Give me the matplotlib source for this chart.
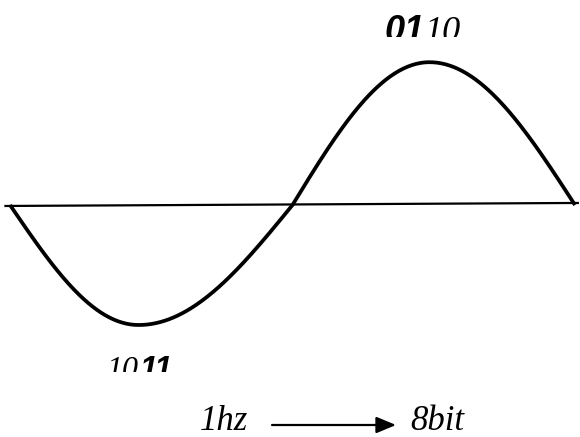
import numpy as np
import matplotlib
matplotlib.use('agg')
import matplotlib.pyplot as plt
from matplotlib.patches import Rectangle

# wave: one full period, the first half dips down, the second rises higher
half_amps = [-1.0, 1.19]          # peak of each half wave
peak_at = [0.455, 0.485]          # where each peak sits within its half
axis_y = [-0.008, 0.017]          # baseline, a bit lower on the left
axis_x = [-0.008, 1.005]          # as fraction of the period

top_label = ['01', '10']          # bold sans part, italic serif part
bottom_label = ['10', '11']       # italic serif part, bold sans part
caption = ['1hz', '8bit']

W, H = 580, 437
fig = plt.figure(figsize=(W / 100, H / 100), dpi=100)
ax = fig.add_axes([0, 0, 1, 1])
ax.set_axis_off()

# data scale: period 2*pi spans px 10..575, 1 unit = 120 px, zero at px 205
sx = 565 / (2 * np.pi)
ax.set_xlim(-10 / sx, 2 * np.pi + 5 / sx)
ax.set_ylim(-(H - 205) / 120, 205 / 120)
period = 2 * np.pi


def half_wave(start, amp, p):
    u = np.linspace(0, 1, 200)
    ph = np.where(u < p, 0.5 * np.pi * u / p,
                  0.5 * np.pi + 0.5 * np.pi * (u - p) / (1 - p))
    return start + u * np.pi, amp * np.sin(ph)


xs, ys = [], []
for i in range(2):
    hx, hy = half_wave(i * np.pi, half_amps[i], peak_at[i])
    xs.append(hx)
    ys.append(hy)
ax.plot(np.concatenate(xs), np.concatenate(ys), color='black', lw=2.7,
        solid_capstyle='butt')
ax.plot([axis_x[0] * period, axis_x[1] * period], axis_y, color='black', lw=1.6)

serif = {'family': 'Liberation Serif', 'style': 'italic'}
sans_b = {'family': 'Liberation Sans', 'style': 'italic', 'weight': 'bold'}


def fx(px):
    return px / W


def fy(py):
    return 1 - py / H


def clipped_label(x0, base, parts, fonts, size, clip_py):
    clip = Rectangle((0, fy(clip_py)), 1, 1, transform=fig.transFigure,
                     facecolor='none', edgecolor='none')
    fig.add_artist(clip)
    t = fig.text(fx(x0), fy(base), parts[0], fontsize=size, ha='left',
                 va='baseline', **fonts[0])
    t.set_clip_path(clip)
    fig.canvas.draw()
    right = t.get_window_extent().x1
    t2 = fig.text(right / W, fy(base), parts[1], fontsize=size, ha='left',
                  va='baseline', **fonts[1])
    t2.set_clip_path(clip)


clipped_label(384, 41, top_label, [sans_b, serif], 26, 36.5)
clipped_label(107, 378, bottom_label, [serif, sans_b], 23, 372)

# caption with arrow
fig.text(fx(200), fy(430), caption[0], fontsize=25, ha='left', va='baseline',
         **serif)
fig.text(fx(410), fy(430), caption[1], fontsize=25, ha='left', va='baseline',
         **serif)
ax.annotate('', xy=(fx(396), fy(425)), xytext=(fx(272), fy(425)),
            xycoords='figure fraction', textcoords='figure fraction',
            arrowprops=dict(arrowstyle='-|>,head_length=1.2,head_width=0.5',
                            color='black', lw=1.6, shrinkA=0, shrinkB=0))

plt.savefig('out.png', dpi=100)
plt.close()
